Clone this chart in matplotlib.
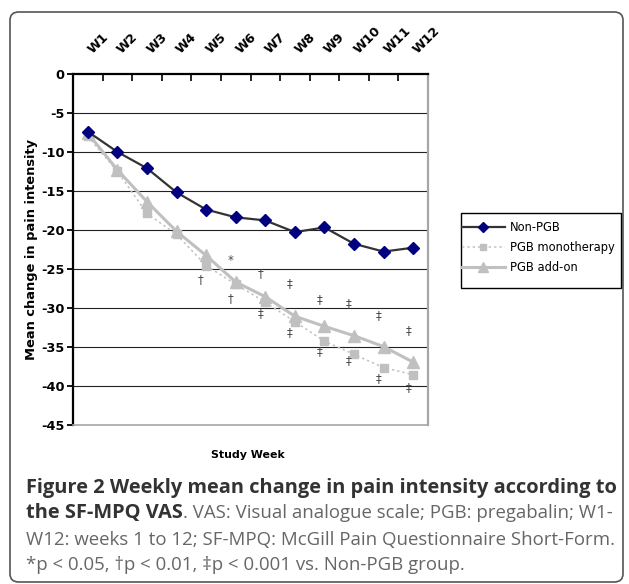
import matplotlib
matplotlib.use("Agg")
import matplotlib.pyplot as plt
from matplotlib.patches import FancyBboxPatch, Rectangle
from matplotlib.lines import Line2D

# ---------------- data ----------------
weeks = ["W1", "W2", "W3", "W4", "W5", "W6", "W7", "W8", "W9", "W10", "W11", "W12"]
non_pgb = [-7.4, -10.0, -12.1, -15.2, -17.4, -18.4, -18.8, -20.3, -19.7, -21.8, -22.8, -22.3]
pgb_mono = [-8.0, -12.5, -17.9, -20.6, -24.6, -27.0, -29.3, -31.8, -34.3, -36.0, -37.7, -38.6]
pgb_addon = [-7.6, -12.3, -16.4, -20.2, -23.3, -26.7, -28.6, -31.1, -32.4, -33.6, -35.0, -37.0]

# significance marks (week number, value position, symbol)
sig_up_weeks = [6, 7, 8, 9, 10, 11, 12]
sig_up_vals = [-23.9, -25.6, -26.9, -29.0, -29.5, -31.0, -33.0]
sig_up_syms = ["*", "†", "‡", "‡", "‡", "‡", "‡"]
sig_lo_weeks = [5, 6, 7, 8, 9, 10, 11, 12]
sig_lo_vals = [-26.4, -28.8, -30.8, -33.2, -35.6, -36.8, -39.1, -40.2]
sig_lo_syms = ["†", "†", "‡", "‡", "‡", "‡", "‡", "‡"]

y_ticks = [0, -5, -10, -15, -20, -25, -30, -35, -40, -45]
series_names = ["Non-PGB", "PGB monotherapy", "PGB add-on"]

caption_l1 = "Figure 2 Weekly mean change in pain intensity according to"
caption_l2_bold = "the SF-MPQ VAS"
caption_l2_reg = ". VAS: Visual analogue scale; PGB: pregabalin; W1-"
caption_l3 = "W12: weeks 1 to 12; SF-MPQ: McGill Pain Questionnaire Short-Form."
caption_l4 = "*p < 0.05, \u2020p < 0.01, \u2021p < 0.001 vs. Non-PGB group."

# ---------------- figure ----------------
W, H, DPI = 629, 584, 100
fig = plt.figure(figsize=(W / DPI, H / DPI), dpi=DPI)
fig.patch.set_facecolor("white")

def fx(px):
    return px / W

def fy(py):
    return 1 - py / H

# outer rounded frame
frame = FancyBboxPatch((fx(10), fy(582)), fx(623) - fx(10), fy(12) - fy(582),
                       boxstyle="round,pad=0,rounding_size=0.014",
                       transform=fig.transFigure, fill=False,
                       edgecolor="#555555", linewidth=1.2)
fig.patches.append(frame)

ax_l, ax_r, ax_t, ax_b = 73, 428, 74, 424.5
ax = fig.add_axes([fx(ax_l), fy(ax_b), fx(ax_r) - fx(ax_l), fy(ax_t) - fy(ax_b)])

x = list(range(len(weeks)))
ax.set_xlim(-0.5, len(weeks) - 0.5)
ax.set_ylim(-45, 0)

# gridlines
for v in y_ticks[1:-1]:
    ax.axhline(v, color="#222222", linewidth=0.8, zorder=1)

ax.plot(x, pgb_mono, color="#C0C0C0", linestyle=(0, (1.5, 2.0)), linewidth=1.1,
        marker="s", markersize=5.2, markerfacecolor="#C0C0C0", markeredgecolor="#C0C0C0",
        zorder=3, label=series_names[1])
ax.plot(x, pgb_addon, color="#C0C0C0", linestyle="-", linewidth=2.2,
        marker="^", markersize=8.5, markerfacecolor="#C0C0C0", markeredgecolor="#C0C0C0",
        zorder=4, label=series_names[2])
ax.plot(x, non_pgb, color="#333333", linestyle="-", linewidth=1.6,
        marker="D", markersize=6.0, markerfacecolor="#000080", markeredgecolor="#000080",
        zorder=5, label=series_names[0])

sig_color = "#4a4a4a"
for wk, v, s in zip(sig_up_weeks, sig_up_vals, sig_up_syms):
    ax.text(wk - 1 - 0.17, v, s, ha="center", va="center", fontsize=8.5,
            color=sig_color, family="DejaVu Sans", zorder=6)
for wk, v, s in zip(sig_lo_weeks, sig_lo_vals, sig_lo_syms):
    ax.text(wk - 1 - 0.17, v, s, ha="center", va="center", fontsize=8.5,
            color=sig_color, family="DejaVu Sans", zorder=6)

# axes styling
ax.spines["left"].set_color("black")
ax.spines["left"].set_linewidth(1.6)
ax.spines["top"].set_color("black")
ax.spines["top"].set_linewidth(1.6)
ax.spines["right"].set_color("#A6A6A6")
ax.spines["right"].set_linewidth(1.6)
ax.spines["bottom"].set_color("#A6A6A6")
ax.spines["bottom"].set_linewidth(1.2)

ax.set_yticks(y_ticks)
ax.set_yticklabels([str(v) for v in y_ticks], fontweight="bold", fontsize=9.3,
                   family="DejaVu Sans")
ax.tick_params(axis="y", direction="out", length=4, width=1.3, pad=2, colors="black")

ax.xaxis.tick_top()
ax.set_xticks(x)
ax.set_xticklabels([])
ax.tick_params(axis="x", which="major", length=0)
ax.set_xticks([i - 0.5 for i in range(len(weeks) + 1)], minor=True)
ax.tick_params(axis="x", which="minor", direction="in", length=5, width=1.2, colors="black",
               top=True, bottom=False)

for i, lbl in enumerate(weeks):
    ax.annotate(lbl, xy=(i, 1), xycoords=("data", "axes fraction"),
                xytext=(1.5, 16), textcoords="offset points", rotation=45,
                ha="left", va="center", rotation_mode="anchor",
                fontsize=9.3, fontweight="bold", family="DejaVu Sans")

fig.text(fx(32), fy((ax_t + ax_b) / 2 + 0), "Mean change in pain intensity", rotation=90,
         ha="center", va="center", fontsize=9.4, fontweight="bold", family="DejaVu Sans")
fig.text(fx(248), fy(455), "Study Week", ha="center", va="center", fontsize=7.9,
         fontweight="bold", family="DejaVu Sans")

# legend (frameless, with a manual box)
handles = [
    Line2D([], [], color="#333333", linewidth=1.6, marker="D", markersize=5,
           markerfacecolor="#000080", markeredgecolor="#000080"),
    Line2D([], [], color="#C0C0C0", linestyle=(0, (1.5, 2.0)), linewidth=1.1, marker="s",
           markersize=5, markerfacecolor="#C0C0C0", markeredgecolor="#C0C0C0"),
    Line2D([], [], color="#C0C0C0", linewidth=2.2, marker="^", markersize=6.5,
           markerfacecolor="#C0C0C0", markeredgecolor="#C0C0C0"),
]
leg = fig.legend(handles, series_names, loc="upper left",
                 bbox_to_anchor=(fx(462), fy(221)), frameon=False,
                 prop={"family": "DejaVu Sans", "size": 8.3}, numpoints=1,
                 handlelength=3.7, handletextpad=0.45, labelspacing=0.62,
                 borderpad=0.0, borderaxespad=0.0)
fig.patches.append(Rectangle((fx(461), fy(288)), fx(621) - fx(461), fy(213) - fy(288),
                             transform=fig.transFigure, fill=False,
                             edgecolor="black", linewidth=1.0))

# caption
fig.canvas.draw()
renderer = fig.canvas.get_renderer()

def text_width(t):
    return t.get_window_extent(renderer).width

cap_left = 26
cap_fam = "Open Sans"
probe = fig.text(0, 0, caption_l1, fontsize=12, fontweight="bold", family=cap_fam)
bold_size = 12 * (592.0 / text_width(probe))
probe.remove()
probe = fig.text(0, 0, caption_l3, fontsize=12, family=cap_fam)
reg_size = 12 * (585.0 / text_width(probe))
probe.remove()

bold_col = "#333333"
reg_col = "#666666"
fig.text(fx(cap_left), fy(493), caption_l1, fontsize=bold_size, fontweight="bold",
         family=cap_fam, color=bold_col, va="baseline", ha="left")
t2 = fig.text(fx(cap_left), fy(518), caption_l2_bold, fontsize=bold_size, fontweight="bold",
              family=cap_fam, color=bold_col, va="baseline", ha="left")
w2 = text_width(t2)
fig.text(fx(cap_left + w2), fy(518), caption_l2_reg, fontsize=reg_size,
         family=cap_fam, color=reg_col, va="baseline", ha="left")
fig.text(fx(cap_left), fy(545), caption_l3, fontsize=reg_size,
         family=cap_fam, color=reg_col, va="baseline", ha="left")
fig.text(fx(cap_left), fy(570), caption_l4, fontsize=reg_size,
         family=[cap_fam, "DejaVu Sans"], color=reg_col, va="baseline", ha="left")

fig.savefig("out.png", dpi=DPI, facecolor="white")
